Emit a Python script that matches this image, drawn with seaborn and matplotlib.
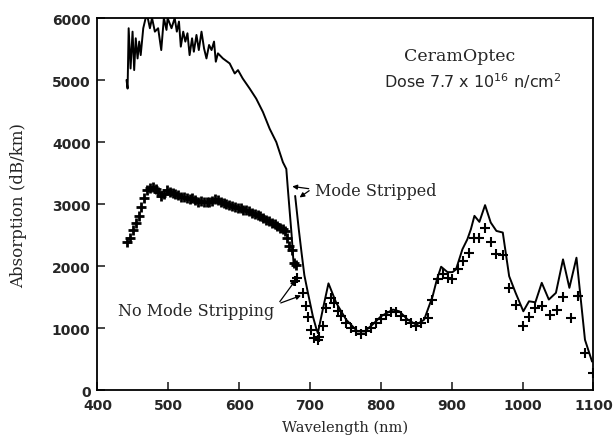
import matplotlib
matplotlib.use("Agg")
import matplotlib.pyplot as plt
import pandas as pd
import seaborn as sns

# Mode stripped, first detector range (noisy visible part)
ms1_wl = [441, 442.5, 444, 446.7, 449.5, 451.8, 454, 456.6, 458.9, 461, 464.6, 468, 471, 474,
          477, 481, 485.6, 490, 493.7, 497.4, 499, 504.5, 509, 512, 515, 517.6, 521, 524, 527,
          530, 533.5, 536, 539.7, 543, 546.8, 550.4, 553.8, 557.5, 561, 564.5, 567, 570, 577,
          586.6, 593.7, 598.3, 605, 614.8, 624, 633.5, 643, 652.4, 661.7, 666.5, 668.7, 671,
          674, 677]
ms1_abs = [5000, 4862, 5835, 5186, 5780, 5160, 5673, 5348, 5620, 5402, 5835, 6000, 6000, 5835,
           6000, 5780, 5835, 5483, 6000, 5808, 6000, 5835, 6000, 5780, 5943, 5538, 5780, 5619,
           5754, 5402, 5673, 5456, 5727, 5483, 5780, 5510, 5348, 5565, 5483, 5620, 5295, 5430,
           5348, 5267, 5105, 5160, 5024, 4862, 4700, 4484, 4214, 3998, 3674, 3565, 3241, 2917,
           2500, 2000]

# Mode stripped, second detector range
ms2_wl = [679, 684, 688, 692, 697, 704, 709, 711, 718, 726, 737, 751, 767, 777, 788, 800, 817,
          826, 838, 850, 861, 873, 879, 885, 894, 901, 906, 915, 922, 927, 932, 939, 947, 955,
          963, 972, 981, 990, 1001, 1009, 1018, 1027, 1037, 1047, 1057, 1066, 1076, 1088, 1098]
ms2_abs = [3130, 2600, 2215, 1850, 1567, 1188, 983, 918, 1300, 1720, 1405, 1134, 945, 945,
           1053, 1188, 1297, 1269, 1134, 1053, 1134, 1512, 1783, 1988, 1901, 1901, 1945, 2269,
           2431, 2593, 2809, 2712, 2982, 2701, 2566, 2540, 1836, 1570, 1270, 1431, 1415, 1729,
           1459, 1567, 2107, 1648, 2134, 810, 459]

# No mode stripping, first range
nm1_wl = [442, 446, 450, 454, 458, 462, 466, 470, 474, 478, 482, 486, 490, 494, 498, 502, 506,
          510, 514, 518, 522, 526, 530, 534, 538, 542, 546, 550, 554, 558, 562, 566, 570, 574,
          578, 582, 586, 590, 594, 598, 602, 606, 610, 614, 618, 622, 626, 630, 634, 638, 642,
          646, 650, 654, 658, 662, 665, 668, 671, 674, 677, 680]
nm1_abs = [2380, 2450, 2580, 2700, 2800, 2950, 3100, 3220, 3260, 3280, 3250, 3200, 3130, 3160,
           3230, 3200, 3170, 3160, 3140, 3120, 3110, 3100, 3080, 3090, 3060, 3040, 3050, 3030,
           3040, 3030, 3050, 3080, 3070, 3040, 3020, 3000, 2990, 2960, 2950, 2940, 2930, 2910,
           2900, 2880, 2860, 2840, 2830, 2800, 2780, 2750, 2720, 2700, 2670, 2640, 2610, 2590,
           2560, 2450, 2320, 2260, 2050, 2020]

# No mode stripping, second range
nm2_wl = [679, 682, 690, 694, 697, 702, 706, 711, 713, 718, 722, 730, 734, 739, 744, 751, 758,
          765, 772, 779, 786, 793, 800, 807, 814, 821, 828, 835, 842, 849, 856, 866, 872, 880,
          887, 894, 901, 909, 916, 924, 932, 939, 947, 955, 963, 972, 981, 990, 1001, 1009,
          1018, 1028, 1038, 1048, 1057, 1068, 1078, 1088, 1099]
nm2_abs = [1760, 1810, 1560, 1350, 1170, 970, 840, 800, 850, 1026, 1324, 1486, 1405, 1269,
           1188, 1080, 999, 945, 907, 945, 999, 1080, 1145, 1215, 1253, 1253, 1188, 1134, 1080,
           1037, 1080, 1162, 1459, 1783, 1864, 1810, 1783, 1945, 2080, 2215, 2458, 2458, 2620,
           2380, 2200, 2172, 1648, 1377, 1026, 1178, 1324, 1350, 1205, 1297, 1502, 1162, 1512,
           605, 270]

x_ticks = [400, 500, 600, 700, 800, 900, 1000, 1100]
y_ticks = [0, 1000, 2000, 3000, 4000, 5000, 6000]

sns.set_style("ticks")
label_font = "DejaVu Serif"

fig = plt.figure(figsize=(6.15, 4.39), dpi=100)
ax = fig.add_axes([0.1585, 0.1093, 0.8065, 0.8474])

for wl, ab in [(ms1_wl, ms1_abs), (ms2_wl, ms2_abs)]:
    seg = pd.DataFrame({"wl": wl, "abs": ab})
    sns.lineplot(data=seg, x="wl", y="abs", color="black", lw=1.4, sort=False, ax=ax)

# dense first range drawn a little heavier, as in the scan
sns.scatterplot(x=nm1_wl, y=nm1_abs, marker="+", color="black", s=55, linewidth=2.0, ax=ax)
sns.scatterplot(x=nm2_wl, y=nm2_abs, marker="+", color="black", s=42, linewidth=1.5, ax=ax)

ax.set_xlim(400, 1100)
ax.set_ylim(0, 6000)
ax.set_xticks(x_ticks)
ax.set_yticks(y_ticks)
ax.tick_params(direction="in", length=6, width=1.2, top=False, right=False)
ax.tick_params(axis="x", pad=6)
ax.tick_params(axis="y", pad=5)
for lab in ax.get_xticklabels() + ax.get_yticklabels():
    lab.set_fontsize(10)
    lab.set_fontweight("bold")
for sp in ax.spines.values():
    sp.set_linewidth(1.3)
    sp.set_color("black")

ax.set_xlabel("Wavelength (nm)", fontsize=10.5, family=label_font, labelpad=5)
ax.set_ylabel("Absorption (dB/km)", fontsize=12, family=label_font)
ax.yaxis.set_label_coords(-0.142, 0.5)

ax.text(911, 5390, "CeramOptec", fontsize=12.5, family=label_font, ha="center", va="center")
ax.text(930, 4990, r"Dose 7.7 x 10$^{16}$ n/cm$^{2}$", fontsize=11.5, ha="center", va="center")

ax.text(707, 3210, "Mode Stripped", fontsize=11.5, family=label_font, ha="left", va="center")
for tip in [(671, 3290), (682, 3080)]:
    ax.annotate("", xy=tip, xytext=(702, 3241),
                arrowprops=dict(arrowstyle="-|>", color="black", lw=0.9, mutation_scale=7))

ax.text(650, 1280, "No Mode Stripping", fontsize=11.5, family=label_font, ha="right", va="center")
for tip in [(682, 1810), (691, 1540)]:
    ax.annotate("", xy=tip, xytext=(655, 1389),
                arrowprops=dict(arrowstyle="-|>", color="black", lw=0.9, mutation_scale=7))

fig.savefig("out.png", dpi=100)
